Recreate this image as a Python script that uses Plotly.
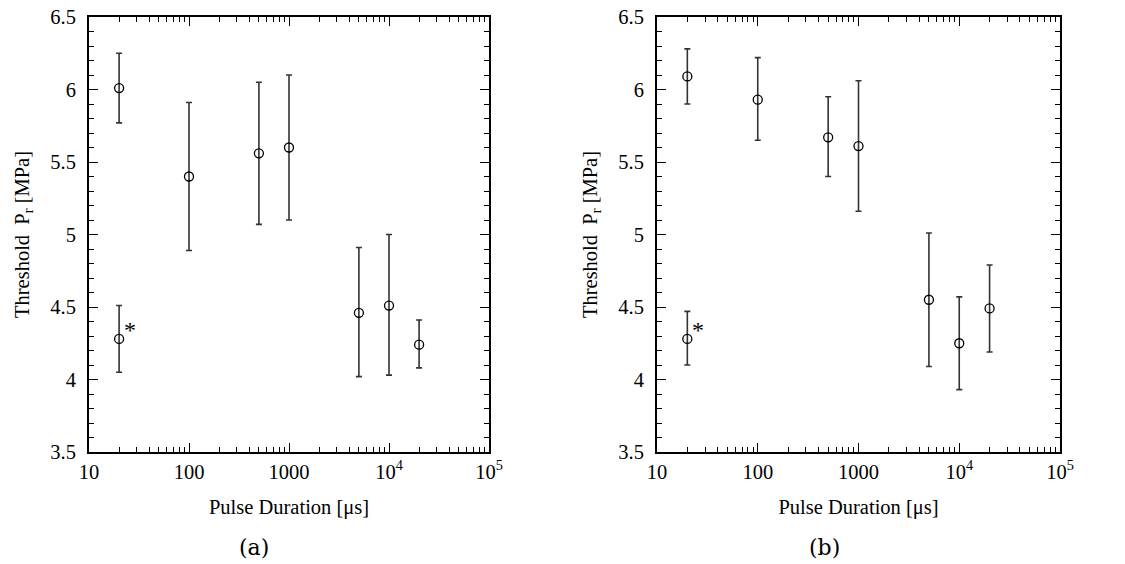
import plotly.graph_objects as go

# ---- data ----
pulse_us = [20, 100, 500, 1000, 5000, 10000, 20000]

a_val = [6.01, 5.40, 5.56, 5.60, 4.46, 4.51, 4.24]
a_hi = [6.25, 5.91, 6.05, 6.10, 4.91, 5.00, 4.41]
a_lo = [5.77, 4.89, 5.07, 5.10, 4.02, 4.03, 4.08]
a_star_x = [20]
a_star_val = [4.28]
a_star_hi = [4.51]
a_star_lo = [4.05]

b_val = [6.09, 5.93, 5.67, 5.61, 4.55, 4.25, 4.49]
b_hi = [6.28, 6.22, 5.95, 6.06, 5.01, 4.57, 4.79]
b_lo = [5.90, 5.65, 5.40, 5.16, 4.09, 3.93, 4.19]
b_star_x = [20]
b_star_val = [4.28]
b_star_hi = [4.47]
b_star_lo = [4.10]

x_tickvals = [10, 100, 1000, 10000, 100000]
x_ticktext = ["10", "100", "1000", "10<sup>4</sup>", "10<sup>5</sup>"]
y_tickvals = [3.5, 4, 4.5, 5, 5.5, 6, 6.5]
y_ticktext = ["3.5", "4", "4.5", "5", "5.5", "6", "6.5"]
x_minor = [m * 10 ** e for e in range(1, 5) for m in range(2, 10)]
y_minor = [round(3.5 + 0.1 * i, 2) for i in range(31)]

FONT = "Liberation Serif"
FS = 20.5
fig = go.Figure()


def add_series(xs, v, hi, lo, xa, ya):
    fig.add_trace(go.Scatter(
        x=xs, y=v, mode="markers", xaxis=xa, yaxis=ya, showlegend=False,
        marker=dict(symbol="circle-open", size=9, color="black", line=dict(width=1.3, color="black")),
        error_y=dict(type="data", symmetric=False,
                     array=[h - m for h, m in zip(hi, v)],
                     arrayminus=[m - l for m, l in zip(v, lo)],
                     color="#333333", thickness=1.6, width=3),
    ))


add_series(pulse_us, a_val, a_hi, a_lo, "x", "y")
add_series(a_star_x, a_star_val, a_star_hi, a_star_lo, "x", "y")
add_series(pulse_us, b_val, b_hi, b_lo, "x2", "y2")
add_series(b_star_x, b_star_val, b_star_hi, b_star_lo, "x2", "y2")

ydom = [1 - 452 / 564, 1 - 17 / 564]
xcommon = dict(type="log", range=[1, 5], tickmode="array", tickvals=x_tickvals, ticktext=x_ticktext,
               ticks="inside", ticklen=9, tickwidth=1.3, tickcolor="black", automargin=False,
               showline=True, linecolor="black", linewidth=2, mirror="allticks",
               showgrid=False, zeroline=False,
               tickfont=dict(family=FONT, size=FS, color="black"),
               minor=dict(ticks="inside", ticklen=5, tickwidth=1.2, tickcolor="black",
                          tickmode="array", tickvals=x_minor, showgrid=False),
               title=dict(text="Pulse Duration [μs]", font=dict(family=FONT, size=FS, color="black"), standoff=18))
ycommon = dict(range=[3.5, 6.5], tickmode="array", tickvals=y_tickvals, ticktext=y_ticktext,
               ticks="inside", ticklen=9, tickwidth=1.3, tickcolor="black", automargin=False,
               showline=True, linecolor="black", linewidth=2, mirror="allticks",
               showgrid=False, zeroline=False, ticklabelstandoff=7,
               tickfont=dict(family=FONT, size=FS, color="black"),
               minor=dict(ticks="inside", ticklen=5, tickwidth=1.2, tickcolor="black",
                          tickmode="array", tickvals=y_minor, showgrid=False),
               title=dict(text="Threshold  P<sub>r</sub> [MPa]", font=dict(family=FONT, size=FS, color="black"), standoff=15))

fig.update_layout(
    width=1125, height=564, margin=dict(l=0, r=0, t=0, b=0),
    paper_bgcolor="white", plot_bgcolor="white",
    xaxis=dict(domain=[89 / 1125, 489 / 1125], anchor="y", **xcommon),
    yaxis=dict(domain=ydom, anchor="x", **ycommon),
    xaxis2=dict(domain=[657 / 1125, 1060 / 1125], anchor="y2", **xcommon),
    yaxis2=dict(domain=ydom, anchor="x2", **ycommon),
)

for xr, yr, xs, ys in [("x", "y", a_star_x[0], a_star_val[0]), ("x2", "y2", b_star_x[0], b_star_val[0])]:
    fig.add_annotation(x=1.41, y=ys, xref=xr, yref=yr, text="*", showarrow=False,
                       xanchor="center", yanchor="bottom", yshift=-6,
                       font=dict(family=FONT, size=24, color="black"))

fig.add_annotation(x=254 / 1125, y=1 - 547 / 564, xref="paper", yref="paper", text="(a)",
                   showarrow=False, xanchor="center", yanchor="middle",
                   font=dict(family="DejaVu Serif", size=22, color="black"))
fig.add_annotation(x=825 / 1125, y=1 - 547 / 564, xref="paper", yref="paper", text="(b)",
                   showarrow=False, xanchor="center", yanchor="middle",
                   font=dict(family="DejaVu Serif", size=22, color="black"))

fig.write_html("out.html")
